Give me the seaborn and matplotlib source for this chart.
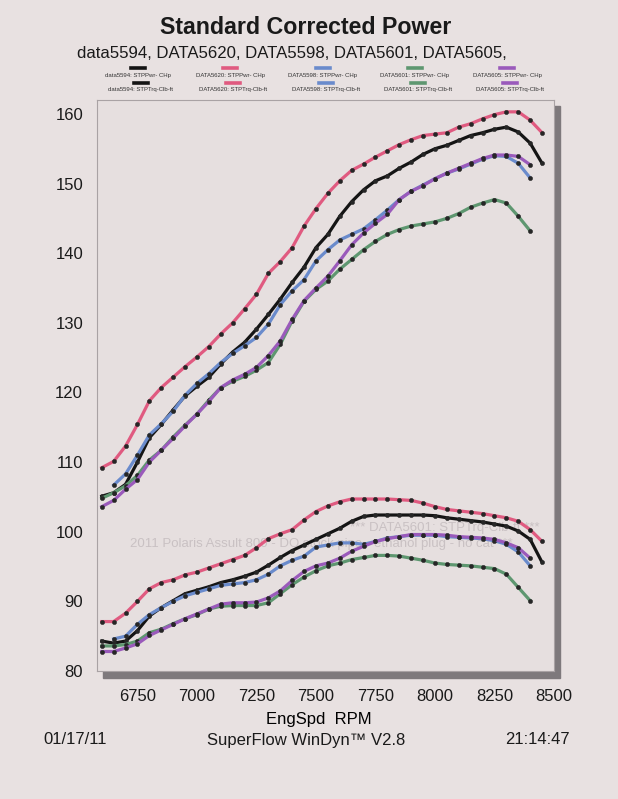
import pandas as pd
import matplotlib.pyplot as plt
import seaborn as sns
from matplotlib.patches import Rectangle
from matplotlib.lines import Line2D

# dyno runs, 50 rpm steps
runs = ['data5594', 'DATA5620', 'DATA5598', 'DATA5601', 'DATA5605']
colors = ['#141414', '#e05a80', '#6a8bcc', '#5e9770', '#9a5abb']
rpm_start = [6600, 6600, 6650, 6600, 6600]

pwr_5594 = [105.1, 105.6, 106.8, 110.0, 113.5, 115.4, 117.5, 119.5, 120.9, 122.2,
            124.1, 125.8, 127.2, 129.1, 131.2, 133.4, 135.8, 138.0, 140.8, 142.7,
            145.3, 147.4, 149.1, 150.4, 151.1, 152.2, 153.1, 154.2, 155.0, 155.5,
            156.2, 156.9, 157.3, 157.8, 158.1, 157.4, 155.8, 152.9]
pwr_5620 = [109.2, 110.1, 112.3, 115.4, 118.8, 120.7, 122.2, 123.7, 125.1, 126.6,
            128.4, 130.0, 132.0, 134.1, 137.1, 138.8, 140.8, 143.9, 146.4, 148.6,
            150.4, 151.9, 152.8, 153.8, 154.7, 155.6, 156.3, 156.9, 157.1, 157.3,
            158.1, 158.6, 159.3, 159.9, 160.3, 160.3, 159.1, 157.3]
pwr_5598 = [106.7, 108.3, 111.0, 113.9, 115.5, 117.3, 119.6, 121.3, 122.7, 124.3,
            125.6, 126.7, 127.9, 129.8, 132.6, 134.6, 136.2, 138.9, 140.5, 141.9,
            142.7, 143.5, 144.8, 146.2, 147.7, 148.9, 149.8, 150.7, 151.5, 152.1,
            152.8, 153.5, 154.0, 153.9, 152.9, 150.8]
pwr_5601 = [104.8, 105.6, 106.6, 108.1, 110.3, 111.7, 113.6, 115.3, 116.9, 118.9,
            120.7, 121.6, 122.3, 123.2, 124.3, 126.9, 130.3, 133.1, 134.8, 136.0,
            137.7, 139.1, 140.5, 141.7, 142.7, 143.4, 143.9, 144.2, 144.5, 145.0,
            145.7, 146.6, 147.2, 147.7, 147.2, 145.3, 143.2]
pwr_5605 = [103.6, 104.5, 106.1, 107.5, 110.0, 111.7, 113.4, 115.2, 116.9, 118.7,
            120.7, 121.8, 122.6, 123.6, 125.3, 127.4, 130.5, 133.2, 135.0, 136.7,
            138.9, 141.2, 142.9, 144.3, 145.6, 147.7, 148.9, 149.7, 150.7, 151.5,
            152.2, 152.9, 153.6, 154.1, 154.1, 153.9, 152.7]

trq_5594 = [84.3, 84.0, 84.3, 85.8, 87.9, 89.1, 90.1, 91.1, 91.6, 92.1,
            92.7, 93.1, 93.6, 94.2, 95.2, 96.3, 97.3, 98.1, 98.9, 99.7,
            100.5, 101.5, 102.2, 102.4, 102.4, 102.4, 102.4, 102.4, 102.3, 102.0,
            101.8, 101.6, 101.4, 101.1, 100.8, 100.1, 98.9, 95.6]
trq_5620 = [87.1, 87.1, 88.3, 90.0, 91.8, 92.7, 93.1, 93.8, 94.2, 94.8,
            95.4, 96.0, 96.6, 97.7, 99.0, 99.7, 100.3, 101.7, 102.9, 103.7,
            104.3, 104.7, 104.7, 104.7, 104.7, 104.6, 104.5, 104.1, 103.6, 103.2,
            103.0, 102.8, 102.6, 102.3, 102.0, 101.5, 100.3, 98.6]
trq_5598 = [84.6, 85.0, 86.7, 88.1, 89.1, 90.0, 90.8, 91.3, 91.8, 92.3,
            92.5, 92.7, 93.1, 93.9, 95.1, 95.9, 96.5, 97.8, 98.1, 98.4,
            98.4, 98.2, 98.6, 99.1, 99.3, 99.5, 99.5, 99.5, 99.3, 99.2,
            99.1, 99.0, 98.7, 98.2, 97.1, 95.1]
trq_5601 = [83.6, 83.6, 83.8, 84.3, 85.5, 86.0, 86.8, 87.5, 88.1, 88.9,
            89.3, 89.4, 89.4, 89.4, 89.8, 91.1, 92.4, 93.5, 94.4, 95.1,
            95.5, 96.0, 96.3, 96.6, 96.6, 96.5, 96.2, 95.9, 95.5, 95.3,
            95.2, 95.1, 94.9, 94.7, 93.9, 92.0, 90.1]
trq_5605 = [82.8, 82.8, 83.3, 83.9, 85.1, 85.9, 86.7, 87.5, 88.2, 88.9,
            89.6, 89.8, 89.8, 89.9, 90.5, 91.5, 93.0, 94.3, 95.1, 95.5,
            96.2, 97.2, 97.9, 98.6, 99.0, 99.3, 99.6, 99.6, 99.6, 99.5,
            99.3, 99.2, 99.1, 98.9, 98.4, 97.7, 96.2]

power = [pwr_5594, pwr_5620, pwr_5598, pwr_5601, pwr_5605]
torque = [trq_5594, trq_5620, trq_5598, trq_5601, trq_5605]

rows = []
for run, start, p, t in zip(runs, rpm_start, power, torque):
    for measure, vals in [('STPPwr- CHp', p), ('STPTrq-Clb-ft', t)]:
        for i, v in enumerate(vals):
            rows.append({'run': run, 'measure': measure, 'rpm': start + 50 * i, 'value': v})
df = pd.DataFrame(rows)

W, H = 618, 799
bg = '#e8e1e1'
fig = plt.figure(figsize=(W / 100, H / 100), dpi=100, facecolor=bg)
plt.rcParams['font.family'] = ['Liberation Sans', 'DejaVu Sans']

def fx(px):
    return px / W

def fy(py):
    return 1 - py / H

# drop shadow behind the plot box
fig.patches.append(Rectangle((fx(103), fy(678)), fx(560) - fx(103), fy(106) - fy(678),
                             transform=fig.transFigure, color='#7e797c', zorder=0))

ax = fig.add_axes([fx(97), fy(671), fx(554) - fx(97), fy(100) - fy(671)])
ax.set_zorder(2)
ax.set_facecolor('#e6dfdf')

sns.lineplot(data=df, x='rpm', y='value', hue='run', hue_order=runs, units='measure',
             estimator=None, sort=False, palette=dict(zip(runs, colors)), legend=False,
             linewidth=2.3, marker='o', markersize=3.1, markerfacecolor='#262626',
             markeredgecolor='#262626', markeredgewidth=0.3, ax=ax)

ax.set_xlim(6580, 8500)
ax.set_ylim(80, 162)
ax.set_xticks(range(6750, 8501, 250))
ax.set_yticks(range(80, 161, 10))
ax.tick_params(length=0, labelsize=12, colors='#1a1a1a')
ax.tick_params(axis='x', pad=13)
ax.tick_params(axis='y', pad=10)
ax.set_xlabel('EngSpd  RPM', fontsize=12)
ax.xaxis.set_label_coords(0.486, -0.071)
ax.set_ylabel('')
for s in ax.spines.values():
    s.set_color('#a9a2a4')
    s.set_linewidth(0.8)

# faint run comment printed on the chart
ax.text(fx(445), fy(528), '*** DATA5601: STPTrq-Clb-ft ***', transform=fig.transFigure,
        fontsize=9.5, color='#c9c1c3', ha='center', va='center', zorder=0.5)
ax.text(fx(321), fy(544), '2011 Polaris Assult 800 - DO stock pipe - ethanol plug - no cat ***',
        transform=fig.transFigure, fontsize=9.5, color='#c9c1c3', ha='center',
        va='center', zorder=0.5)

# legend: sample line above each label
col_x = [138, 230, 323, 415, 507]
for j, (run, c) in enumerate(zip(runs, colors)):
    for k, (measure, ly, ty) in enumerate([('STPPwr- CHp', 68, 75), ('STPTrq-Clb-ft', 83, 89)]):
        cx = col_x[j] + (3 if k else 0)
        fig.add_artist(Line2D([fx(cx - 7), fx(cx + 7)], [fy(ly), fy(ly)],
                              transform=fig.transFigure, color=c, linewidth=2.6))
        fig.text(fx(cx), fy(ty), f'{run}: {measure}', fontsize=4.3, ha='center',
                 va='center', color='#333333')

fig.text(fx(306), fy(27), 'Standard Corrected Power', fontsize=16.7, weight='bold',
         ha='center', va='center', color='#1a1a1a')
fig.text(fx(292), fy(53), 'data5594, DATA5620, DATA5598, DATA5601, DATA5605,',
         fontsize=12.1, ha='center', va='center', color='#1a1a1a')
fig.text(fx(75), fy(740), '01/17/11', fontsize=12, ha='center', va='center', color='#1a1a1a')
fig.text(fx(306), fy(740), 'SuperFlow WinDyn\u2122 V2.8', fontsize=12, ha='center',
         va='center', color='#1a1a1a')
fig.text(fx(537), fy(740), '21:14:47', fontsize=12, ha='center', va='center', color='#1a1a1a')

fig.savefig('out.png', dpi=100, facecolor=bg)
